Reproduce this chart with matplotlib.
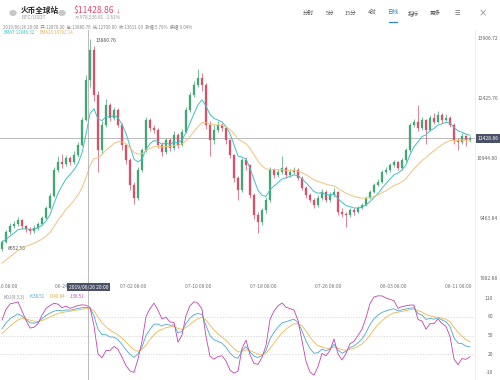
import numpy as np
import matplotlib
matplotlib.use("Agg")
import matplotlib.pyplot as plt
from matplotlib.lines import Line2D
from matplotlib.patches import Circle
from matplotlib.transforms import blended_transform_factory

plt.rcParams['font.family'] = ['Noto Sans CJK SC', 'DejaVu Sans']

# ---------------- data ----------------
close = [8872, 9119, 9267, 9316, 9415, 9267, 9193, 9143, 9218, 9316,
         9464, 9711, 10007, 10649, 10846, 10797, 10945, 10846, 11019, 11266,
         11883, 12870, 13611, 12500, 11143, 11760, 12253, 11932, 12130, 11760,
         11266, 10896, 10279, 9958, 10649, 11143, 11883, 11686, 11636, 11266,
         11093, 11389, 11192, 11513, 11266, 11587, 12130, 12500, 12747, 12920,
         12747, 11760, 11389, 11636, 11760, 11686, 11389, 11019, 10452, 10156,
         10896, 10772, 10032, 9539, 9366, 9662, 9909, 10649, 10526, 10600,
         10699, 10526, 10600, 10649, 10452, 10205, 10032, 9909, 9785, 9958,
         10106, 9909, 10032, 10106, 9613, 9563, 9539, 9662, 9613, 9711,
         9785, 9958, 10106, 10279, 10353, 10600, 10649, 10772, 10846, 10699,
         10896, 11143, 11760, 11834, 11686, 11883, 11636, 11932, 11834, 12006,
         11883, 11932, 11760, 11389, 11340, 11488, 11389, 11428.86]
high = [8920, 9180, 9330, 9400, 9480, 9450, 9300, 9240, 9280, 9370,
        9520, 9760, 10080, 10720, 10990, 11050, 11020, 11000, 11120, 11330,
        11960, 13000, 13880.76, 13700, 12600, 11850, 12400, 12300, 12200, 12180,
        11800, 11300, 10950, 10350, 10720, 11200, 11950, 11940, 11750, 11680,
        11350, 11450, 11430, 11600, 11550, 11650, 12200, 12580, 12850, 13150,
        13050, 12800, 11850, 11750, 11850, 11820, 11720, 11420, 11050, 10500,
        10950, 10980, 10800, 10080, 9620, 9720, 9980, 10720, 10700, 10680,
        11000, 10750, 10680, 10720, 10690, 10500, 10260, 10080, 9950, 10020,
        10180, 10150, 10100, 10200, 10140, 9700, 9620, 9720, 9700, 9760,
        9840, 10010, 10160, 10330, 10420, 10650, 10720, 10830, 10900, 10880,
        10950, 11200, 11820, 11900, 12250, 11950, 11920, 12000, 12050, 12100,
        12050, 12020, 11980, 11800, 11450, 11560, 11520, 11480]
low = [8652.5, 8840, 9080, 9220, 9270, 9200, 9120, 9060, 9100, 9180,
       9290, 9430, 9680, 9980, 10600, 10700, 10750, 10780, 10800, 10980,
       11230, 11850, 12700, 12350, 10600, 11050, 11700, 11850, 11880, 11700,
       11150, 10800, 10150, 9820, 9900, 10600, 11100, 11600, 11550, 11200,
       11000, 11050, 11120, 11150, 11200, 11230, 11550, 12080, 12450, 12700,
       12600, 11650, 11000, 11300, 11580, 11600, 11300, 10950, 10350, 9900,
       10100, 10650, 9950, 9450, 9100, 9300, 9600, 9850, 10450, 10480,
       10550, 10450, 10480, 10550, 10400, 10150, 9950, 9850, 9700, 9740,
       9920, 9850, 9870, 9990, 9550, 9480, 9250, 9500, 9550, 9580,
       9680, 9750, 9930, 10080, 10250, 10320, 10560, 10600, 10720, 10640,
       10660, 10850, 11100, 11700, 11600, 11640, 11300, 11600, 11780, 11800,
       11820, 11850, 11700, 11300, 11150, 11300, 11250, 11350]
first_open = 8700
ema_fast_span = 7
ema_slow_span = 20
ema_slow_seed = 8300

x_tick_labels = ["06-16 08:00", "06-24 08:00", "07-02 08:00", "07-10 08:00",
                 "07-18 08:00", "07-26 08:00", "08-03 08:00", "08-11 08:00"]
price_ticks = [13906.72, 12425.76, 10944.80, 9463.84, 7982.88]
kdj_ticks = [110, 80, 50, 20, -10]

close = np.array(close, float)
high = np.array(high, float)
low = np.array(low, float)
open_ = np.concatenate([[first_open], close[:-1]])
n = len(close)
idx = np.arange(n)

def ema(v, span, seed=None):
    a = 2.0 / (span + 1)
    out = np.empty_like(v)
    prev = v[0] if seed is None else seed
    for i, val in enumerate(v):
        prev = a * val + (1 - a) * prev
        out[i] = prev
    return out

ema_fast = ema(close, ema_fast_span)
ema_slow = ema(close, ema_slow_span, ema_slow_seed)

# KDJ(9,3,3)
K = np.empty(n); D = np.empty(n)
kp, dp = 50.0, 50.0
for i in range(n):
    lo = low[max(0, i - 8):i + 1].min()
    hi = high[max(0, i - 8):i + 1].max()
    rsv = (close[i] - lo) / (hi - lo) * 100 if hi > lo else 50
    kp = 2 / 3 * kp + rsv / 3
    dp = 2 / 3 * dp + kp / 3
    K[i] = kp; D[i] = dp
J = 3 * K - 2 * D

# ---------------- figure ----------------
W, H = 500, 380
fig = plt.figure(figsize=(5, 3.8), dpi=100)
fig.patch.set_facecolor('white')

def fx(px): return px / W
def fy(py): return 1 - py / H

UP = '#45a675'
DOWN = '#d9506a'

ax = fig.add_axes([0, fy(280), fx(475), (280 - 30) / H])
ax.set_xlim(-0.5, 118.25)
ax.set_ylim(7934.2, 14104.2)
ax.axis('off')

colors = [UP if c >= o else DOWN for o, c in zip(open_, close)]
ax.vlines(idx, low, high, colors=colors, lw=0.5, zorder=2)
bottoms = np.minimum(open_, close)
heights = np.maximum(np.abs(close - open_), 15)
ax.bar(idx, heights, bottom=bottoms, width=0.5, color=colors,
       edgecolor=colors, lw=0.2, zorder=3)
ax.plot(idx, ema_fast, color='#3fc1c6', lw=0.7, zorder=4)
ax.plot(idx, ema_slow, color='#f3c27c', lw=0.7, zorder=4)
ax.axhline(close[-1], color='#b0b0b0', lw=0.6, zorder=1)

imax = int(np.argmax(high)); imin = int(np.argmin(low))
ax.annotate(f"{high[imax]:.2f}", (imax, high[imax]), xytext=(4, -1),
            textcoords='offset points', fontsize=3.6, color='#555555', va='center')
ax.annotate(f"{low[imin]:.2f}", (imin, low[imin]), xytext=(4, 2),
            textcoords='offset points', fontsize=3.6, color='#555555', va='center')

# right price labels
bt = blended_transform_factory(fig.transFigure, ax.transData)
for v in price_ticks:
    ax.text(fx(498), v, f"{v:.2f}", transform=bt, ha='right', va='center',
            fontsize=3.6, color='#666666', clip_on=False)
ax.text(fx(488), close[-1], f"{close[-1]:.2f}", transform=bt, ha='center', va='center',
        fontsize=3.6, color='white', clip_on=False,
        bbox=dict(boxstyle='square,pad=0.35', fc='#4b5167', ec='none'))

# x-axis labels
tick_pos = [0.6, 16.5, 32.75, 49, 65.25, 81.5, 97.75, 114]
xt = blended_transform_factory(ax.transData, fig.transFigure)
for p, lab in zip(tick_pos, x_tick_labels):
    ax.text(p, fy(287), lab, transform=xt, fontsize=3.6, color='#777777',
            ha='center', va='center', clip_on=False)

# ---------------- KDJ ----------------
ax2 = fig.add_axes([0, 0, fx(475), (380 - 290) / H])
ax2.set_xlim(-0.5, 118.25)
ax2.set_ylim(-21.2, 122.8)
ax2.axis('off')
for g in (80, 50, 20):
    ax2.axhline(g, color='#cfcfcf', lw=0.5, ls=(0, (2, 2)), zorder=1)
ax2.plot(idx, K, color='#4aa8cf', lw=0.6, zorder=3)
ax2.plot(idx, D, color='#eeb64e', lw=0.6, zorder=3)
ax2.plot(idx, J, color='#c542b4', lw=0.6, zorder=4)
bt2 = blended_transform_factory(fig.transFigure, ax2.transData)
for v in kdj_ticks:
    ax2.text(fx(493), v, f"{v}", transform=bt2, ha='right', va='center',
             fontsize=3.6, color='#666666', clip_on=False)

# crosshair
fig.add_artist(Line2D([fx(88), fx(88)], [fy(30), fy(380)], color='#a0a0a0', lw=0.5))
fig.add_artist(Line2D([fx(475), fx(475)], [fy(30), fy(380)], color='#ececec', lw=0.6))
fig.text(fx(88.5), fy(287), "2019/06/26 20:00", fontsize=3.6, color='white',
         ha='center', va='center', zorder=10,
         bbox=dict(boxstyle='square,pad=0.35', fc='#4b5167', ec='none'))

# ---------------- header ----------------
fig.add_artist(Circle((fx(13), fy(13)), 0.006, transform=fig.transFigure, color='#c8c8c8'))
fig.add_artist(Circle((fx(62), fy(13)), 0.006, transform=fig.transFigure, color='#c8c8c8'))
fig.text(fx(21), fy(10), "火币全球站", fontsize=5.5, color='#222222', va='center', weight='bold')
fig.text(fx(21), fy(18), "BTC/USDT", fontsize=3.6, color='#999999', va='center')
fig.text(fx(74), fy(10), "$11428.86", fontsize=6.2, color='#e0506a', va='center')
fig.text(fx(116), fy(11), "↓", fontsize=3.5, color='#e0506a', va='center')
fig.text(fx(75), fy(18), "≈¥78,536.81  -1.61%", fontsize=3.4, color='#999999', va='center')

tabs = ["分时", "5分", "15分", "4时", "日线", "指标", "更多"]
tab_x = [308, 330, 350, 372, 393, 413, 435]
for t, xx in zip(tabs, tab_x):
    fig.text(fx(xx), fy(13), t, fontsize=4.0, ha='center', va='center',
             color='#2f86d6' if t == "日线" else '#555555')
fig.add_artist(Line2D([fx(389), fx(397)], [fy(22), fy(22)], color='#2f86d6', lw=0.9))
fig.text(fx(457), fy(13), "☰", fontsize=4.5, ha='center', va='center', color='#666666')
fig.text(fx(483), fy(13), "×", fontsize=6, ha='center', va='center', color='#777777')

fig.text(fx(3), fy(27), "2019/06/26 20:00  开:12870.00  高:13880.76  低:12700.00  收:13611.00  涨幅:5.76%  振幅:9.04%",
         fontsize=3.2, color='#888888', va='center')
fig.text(fx(3), fy(33), f"EMA{ema_fast_span}:{ema_fast[22]:.2f}", fontsize=3.2, color='#3fc1c6', va='center')
fig.text(fx(40), fy(33), f"EMA{ema_slow_span}:{ema_slow[22]:.2f}", fontsize=3.2, color='#e8b060', va='center')

fig.text(fx(3), fy(297), "KDJ(9,3,3)", fontsize=3.2, color='#888888', va='center')
fig.text(fx(30), fy(297), "K:38.51", fontsize=3.2, color='#4aa8cf', va='center')
fig.text(fx(50), fy(297), "D:40.84", fontsize=3.2, color='#e0a840', va='center')
fig.text(fx(70), fy(297), "J:36.51", fontsize=3.2, color='#c542b4', va='center')

fig.savefig("out.png", dpi=100)
